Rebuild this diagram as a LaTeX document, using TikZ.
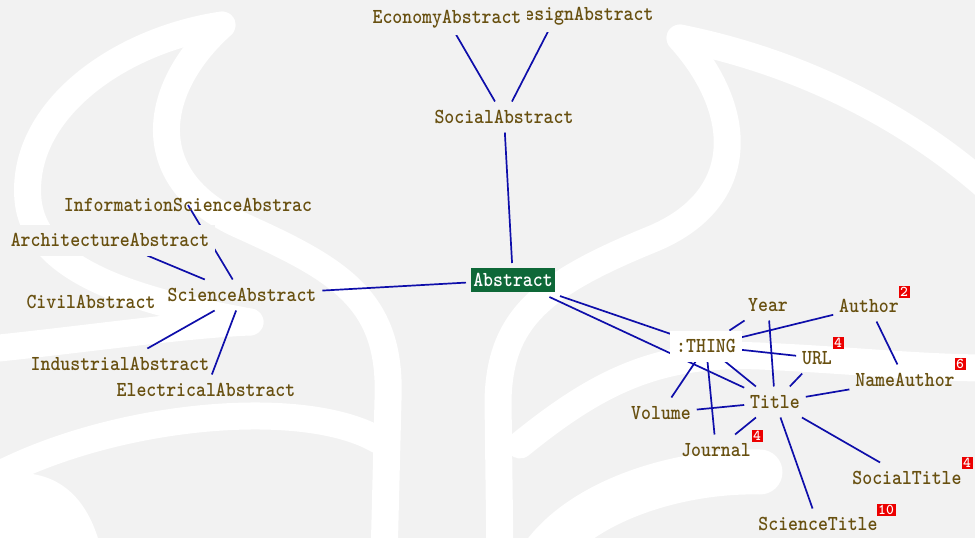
\documentclass[tikz,border=0pt]{standalone}
\usepackage{fontspec}
\usepackage{graphicx}
\usetikzlibrary{calc}
\pgfdeclarelayer{backdrop}
\pgfdeclarelayer{links}
\pgfsetlayers{backdrop,links,main}

\definecolor{paper}{RGB}{242,242,242}
\definecolor{labelink}{RGB}{104,80,16}
\definecolor{linkblue}{RGB}{14,14,170}
\definecolor{rootgreen}{RGB}{14,104,56}
\definecolor{badgered}{RGB}{236,0,0}

% taller-than-wide glyphs for the labels
\newcommand\tall[1]{\scalebox{1}[1.13]{#1}}
\newcommand\labelfont{\fontsize{18.9}{20}\selectfont\ttfamily\bfseries\addfontfeatures{FakeBold=2.5}}

\tikzset{
  concept/.style={font=\labelfont,
    text=labelink, inner xsep=6pt, inner ysep=0pt, minimum height=31pt, outer sep=0pt},
  root/.style={font=\labelfont,
    text=white, fill=rootgreen, inner sep=0pt, minimum width=84pt,
    minimum height=24pt, outer sep=5pt},
  badge/.style={font=\fontsize{15}{15}\selectfont\ttfamily\bfseries,
    text=white, fill=badgered, inner sep=0pt, minimum height=12pt, minimum width=11pt},
  link/.style={draw=linkblue, line width=1.7pt},
  band/.style={draw=white, line width=27pt, line cap=round}
}

\begin{document}
\begin{tikzpicture}[x=1pt, y=-1pt]
\useasboundingbox (0,0) rectangle (975,538);

% faint emblem behind the graph
\begin{pgfonlayer}{backdrop}
  \fill[paper] (0,0) rectangle (975,538);
  \begin{scope}
    \clip (0,0) rectangle (975,538);
    % left half
    \draw[band] (222,25) .. controls (150,90) and (140,180) .. (240,225)
                .. controls (340,270) and (392,300) .. (388,400) -- (384,560);
    \draw[band] (222,25) .. controls (120,40) and (20,110) .. (28,200)
                .. controls (35,270) and (130,300) .. (250,322);
    \draw[band] (-20,350) .. controls (80,340) and (180,325) .. (250,322);
    \draw[band] (-20,485) .. controls (100,415) and (300,395) .. (378,440);
    \fill[white] (-5,475) .. controls (50,465) and (85,490) .. (100,545) -- (-5,545) -- cycle;
    % right half
    \draw[band] (680,38) .. controls (745,110) and (750,200) .. (650,240)
                .. controls (540,285) and (500,320) .. (498,400) -- (500,560);
    \draw[band] (680,38) .. controls (790,60) and (900,110) .. (990,190);
    \draw[band] (520,445) .. controls (600,380) and (660,352) .. (760,356)
                .. controls (850,360) and (920,368) .. (990,368);
    \draw[band, line width=45pt] (540,560) .. controls (580,500) and (680,470) .. (760,472);
  \end{scope}
\end{pgfonlayer}

% upper branch
\node[concept, fill=paper] (design) at (584,16) {\tall{DesignAbstract}};
\node[concept, fill=paper] (economy) at (447,19) {\tall{EconomyAbstract}};
\node[concept] (social) at (504,117) {\tall{SocialAbstract}};

% central concept
\node[root] (abstract) at (513,280) {\tall{Abstract}};

% left branch
\node[concept] (science) at (242,295) {\tall{ScienceAbstract}};
\node[concept] (info) at (188,205) {\tall{InformationScienceAbstrac}};
\node[concept, fill=paper] (arch) at (110,240) {\tall{ArchitectureAbstract}};
\node[concept] (civil) at (91,302) {\tall{CivilAbstract}};
\node[concept] (industrial) at (120,364) {\tall{IndustrialAbstract}};
\node[concept] (electrical) at (206,390) {\tall{ElectricalAbstract}};

% right branch
\node[concept, fill=white] (thing) at (706,346) {\tall{:THING}};
\node[concept] (year) at (768,305) {\tall{Year}};
\node[concept] (author) at (869,306) {\tall{Author}};
\node[concept] (url) at (817,358) {\tall{URL}};
\node[concept] (nameauthor) at (905,380) {\tall{NameAuthor}};
\node[concept] (title) at (775,402) {\tall{Title}};
\node[concept] (volume) at (661,413) {\tall{Volume}};
\node[concept] (journal) at (716,450) {\tall{Journal}};
\node[concept] (socialtitle) at (907,478) {\tall{SocialTitle}};
\node[concept] (sciencetitle) at (818,524) {\tall{ScienceTitle}};

% counters
\node[badge] (cAuthor) at (904,292) {2};
\node[badge] (cUrl) at (838,343) {4};
\node[badge] (cName) at (960,364) {6};
\node[badge] (cJournal) at (757,436) {4};
\node[badge] (cSocial) at (967,463) {4};
\node[badge, minimum width=19pt] (cScience) at (886,510) {10};

\begin{pgfonlayer}{links}
  \draw[link] (social) -- (economy);
  \draw[link] (social) -- ([xshift=-28pt]design.center);
  \draw[link] (social) -- (abstract);
  \draw[link] (abstract) -- (science);
  \draw[link] (science) -- (info.center);
  \draw[link] (science) -- (arch);
  \draw[link] (science) -- (industrial);
  \draw[link] (science) -- (electrical);
  \draw[link] (abstract) -- (thing);
  \draw[link] (abstract) -- (title);
  \draw[link] (thing) -- (year);
  \draw[link] (thing) -- (author);
  \draw[link] (thing) -- (url);
  \draw[link] (thing) -- (title);
  \draw[link] (thing) -- (volume);
  \draw[link] (thing) -- (journal);
  \draw[link] (year) -- (title);
  \draw[link] (url) -- (title);
  \draw[link] (author) -- (nameauthor);
  \draw[link] (nameauthor) -- (title);
  \draw[link] (volume) -- (title);
  \draw[link] (journal) -- (title);
  \draw[link] (title) -- (socialtitle);
  \draw[link] (title) -- (sciencetitle);
\end{pgfonlayer}
\end{tikzpicture}
\end{document}
